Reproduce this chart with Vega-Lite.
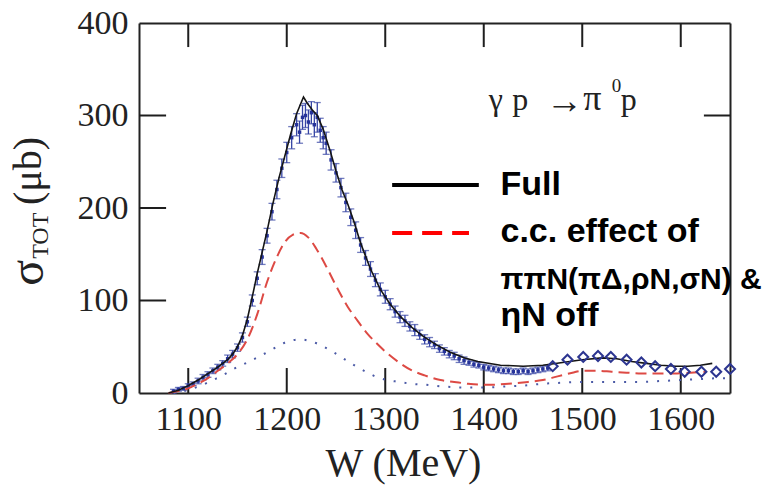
{
  "$schema": "https://vega.github.io/schema/vega-lite/v6.json",
  "width": 591,
  "height": 370,
  "autosize": {"type": "none"},
  "padding": {"left": 139, "top": 23, "right": 39, "bottom": 94},
  "background": "white",
  "config": {"view": {"stroke": null}, "font": "Liberation Serif"},
  "datasets": {
    "pts": [
      {"W":1085,"v":2,"e":2},{"W":1090,"v":4,"e":2},{"W":1095,"v":5,"e":2},{"W":1100,"v":8,"e":2},
      {"W":1105,"v":10,"e":2},{"W":1110,"v":13,"e":3},{"W":1115,"v":17,"e":3},{"W":1120,"v":20,"e":3},
      {"W":1125,"v":24,"e":3},{"W":1130,"v":28,"e":3},{"W":1135,"v":32,"e":3},{"W":1140,"v":37,"e":4},
      {"W":1145,"v":42,"e":4},{"W":1150,"v":49,"e":4},{"W":1155,"v":60,"e":5},{"W":1160,"v":77,"e":5},
      {"W":1165,"v":100,"e":6},{"W":1170,"v":124,"e":7},{"W":1175,"v":147,"e":8},{"W":1180,"v":170,"e":8},
      {"W":1185,"v":196,"e":9},{"W":1190,"v":220,"e":10},{"W":1195,"v":243,"e":10},{"W":1200,"v":260,"e":11},
      {"W":1205,"v":276,"e":12},{"W":1210,"v":290,"e":12},{"W":1213,"v":282,"e":12},{"W":1216,"v":298,"e":13},
      {"W":1219,"v":300,"e":13},{"W":1222,"v":293,"e":13},{"W":1225,"v":303,"e":12},{"W":1228,"v":290,"e":13},
      {"W":1231,"v":298,"e":16},{"W":1234,"v":284,"e":13},{"W":1237,"v":276,"e":12},{"W":1240,"v":270,"e":12},
      {"W":1245,"v":252,"e":11},{"W":1250,"v":238,"e":10},{"W":1255,"v":222,"e":10},{"W":1260,"v":206,"e":10},
      {"W":1265,"v":190,"e":9},{"W":1270,"v":176,"e":9},{"W":1275,"v":160,"e":8},{"W":1280,"v":146,"e":8},
      {"W":1285,"v":134,"e":8},{"W":1290,"v":122,"e":7},{"W":1295,"v":112,"e":7},{"W":1300,"v":104,"e":7},
      {"W":1305,"v":96,"e":6},{"W":1310,"v":88,"e":6},{"W":1315,"v":82,"e":6},{"W":1320,"v":78,"e":6},
      {"W":1325,"v":72,"e":5},{"W":1330,"v":68,"e":6},{"W":1335,"v":63,"e":5},{"W":1340,"v":58,"e":5},
      {"W":1345,"v":55,"e":5},{"W":1350,"v":52,"e":4},{"W":1355,"v":48,"e":4},{"W":1360,"v":45,"e":4},
      {"W":1365,"v":42,"e":4},{"W":1370,"v":40,"e":4},{"W":1375,"v":37,"e":4},{"W":1380,"v":35,"e":4},
      {"W":1385,"v":33,"e":3},{"W":1390,"v":31,"e":3},{"W":1395,"v":30,"e":3},{"W":1400,"v":28,"e":3},
      {"W":1405,"v":27,"e":3},{"W":1410,"v":26,"e":3},{"W":1415,"v":25,"e":3},{"W":1420,"v":24,"e":3},
      {"W":1425,"v":24,"e":3},{"W":1430,"v":23,"e":3},{"W":1435,"v":23,"e":3},{"W":1440,"v":24,"e":3},
      {"W":1445,"v":23,"e":3},{"W":1450,"v":24,"e":3},{"W":1455,"v":25,"e":3},{"W":1460,"v":26,"e":3},
      {"W":1465,"v":27,"e":3}
    ],
    "dia": [
      {"W":1470,"v":29},{"W":1485,"v":36},{"W":1501,"v":39},{"W":1516,"v":40},{"W":1529,"v":39},
      {"W":1545,"v":36},{"W":1560,"v":33},{"W":1574,"v":29},{"W":1590,"v":26},{"W":1604,"v":23},
      {"W":1621,"v":23},{"W":1636,"v":23},{"W":1650,"v":26}
    ],
    "full": [
      {"W":1080,"v":0},{"W":1090,"v":3},{"W":1100,"v":8},{"W":1110,"v":14},{"W":1120,"v":21},
      {"W":1130,"v":28},{"W":1140,"v":36},{"W":1145,"v":42},{"W":1150,"v":50},{"W":1155,"v":62},
      {"W":1160,"v":80},{"W":1165,"v":104},{"W":1170,"v":129},{"W":1175,"v":152},{"W":1180,"v":175},
      {"W":1186,"v":205},{"W":1192,"v":232},{"W":1198,"v":256},{"W":1204,"v":280},{"W":1210,"v":302},
      {"W":1217,"v":320},{"W":1221,"v":313},{"W":1226,"v":306},{"W":1231,"v":300},{"W":1237,"v":285},
      {"W":1244,"v":262},{"W":1250,"v":240},{"W":1256,"v":220},{"W":1262,"v":204},{"W":1268,"v":186},
      {"W":1275,"v":162},{"W":1285,"v":134},{"W":1295,"v":112},{"W":1305,"v":96},{"W":1316,"v":82},
      {"W":1328,"v":70},{"W":1339,"v":61},{"W":1352,"v":52},{"W":1366,"v":44},{"W":1380,"v":38},
      {"W":1394,"v":34},{"W":1417,"v":30},{"W":1440,"v":29},{"W":1460,"v":30},{"W":1480,"v":33},
      {"W":1500,"v":36},{"W":1520,"v":38},{"W":1535,"v":37},{"W":1550,"v":34},{"W":1565,"v":32},
      {"W":1580,"v":30},{"W":1595,"v":29},{"W":1607,"v":29},{"W":1620,"v":30},{"W":1632,"v":32}
    ],
    "cc": [
      {"W":1080,"v":0},{"W":1090,"v":2},{"W":1100,"v":5},{"W":1110,"v":10},{"W":1120,"v":16},
      {"W":1130,"v":24},{"W":1140,"v":32},{"W":1150,"v":42},{"W":1160,"v":58},{"W":1170,"v":85},
      {"W":1180,"v":120},{"W":1190,"v":147},{"W":1198,"v":163},{"W":1206,"v":171},{"W":1214,"v":173},
      {"W":1222,"v":168},{"W":1230,"v":156},{"W":1240,"v":137},{"W":1250,"v":116},{"W":1262,"v":93},
      {"W":1272,"v":78},{"W":1282,"v":64},{"W":1292,"v":53},{"W":1302,"v":43},{"W":1314,"v":33},
      {"W":1326,"v":25},{"W":1340,"v":19},{"W":1356,"v":14},{"W":1370,"v":12},{"W":1384,"v":10},
      {"W":1398,"v":9},{"W":1410,"v":9},{"W":1425,"v":10},{"W":1445,"v":12},{"W":1460,"v":14},
      {"W":1475,"v":18},{"W":1490,"v":22},{"W":1500,"v":24},{"W":1515,"v":24},{"W":1530,"v":23},
      {"W":1545,"v":22},{"W":1560,"v":21},{"W":1575,"v":21},{"W":1593,"v":21},{"W":1610,"v":22},
      {"W":1626,"v":23}
    ],
    "dot": [
      {"W":1085,"v":0},{"W":1095,"v":2},{"W":1105,"v":5},{"W":1115,"v":9},{"W":1125,"v":14},
      {"W":1135,"v":19},{"W":1146,"v":26},{"W":1160,"v":33},{"W":1173,"v":40},{"W":1185,"v":47},
      {"W":1195,"v":53},{"W":1205,"v":57},{"W":1214,"v":58},{"W":1224,"v":56},{"W":1234,"v":52},
      {"W":1246,"v":45},{"W":1258,"v":37},{"W":1270,"v":29},{"W":1282,"v":22},{"W":1292,"v":17},
      {"W":1302,"v":14},{"W":1314,"v":12},{"W":1326,"v":10},{"W":1340,"v":9},{"W":1359,"v":7},
      {"W":1380,"v":6},{"W":1404,"v":6},{"W":1420,"v":7},{"W":1440,"v":8},{"W":1460,"v":10},
      {"W":1478,"v":11},{"W":1500,"v":12},{"W":1520,"v":12},{"W":1540,"v":12},{"W":1560,"v":12},
      {"W":1580,"v":13},{"W":1600,"v":14},{"W":1620,"v":15},{"W":1640,"v":16},{"W":1650,"v":16}
    ],
    "vtk": [
      {"W":1100,"v":13.5,"e":13.5},{"W":1200,"v":13.5,"e":13.5},{"W":1300,"v":13.5,"e":13.5},
      {"W":1400,"v":13.5,"e":13.5},{"W":1500,"v":13.5,"e":13.5},{"W":1600,"v":13.5,"e":13.5},
      {"W":1100,"v":387,"e":13},{"W":1200,"v":387,"e":13},{"W":1300,"v":387,"e":13},
      {"W":1400,"v":387,"e":13},{"W":1500,"v":387,"e":13},{"W":1600,"v":387,"e":13}
    ],
    "htk": [
      {"W":1063.75,"v":100,"e":13.75},{"W":1063.75,"v":200,"e":13.75},{"W":1063.75,"v":300,"e":13.75},
      {"W":1636.75,"v":300,"e":13.25}
    ],
    "leg": [
      {"k":"full","W":1307,"v":225},{"k":"full","W":1395,"v":225},
      {"k":"cc","W":1307,"v":173},{"k":"cc","W":1385,"v":173}
    ],
    "legtext": [
      {"t":"Full","W":1417,"v":225,"s":34},
      {"t":"c.c. effect of","W":1417,"v":174,"s":34},
      {"t":"ππN(πΔ,ρN,σN) &","W":1417,"v":122.5,"s":30},
      {"t":"ηN off","W":1417,"v":83,"s":34}
    ],
    "react": [
      {"t":"γ","W":1405,"v":306,"s":32,"f":"Liberation Serif"},
      {"t":"p","W":1429,"v":306,"s":32,"f":"Liberation Serif"},
      {"t":"→","W":1463,"v":303,"s":37,"f":"DejaVu Sans"},
      {"t":"π","W":1501,"v":306,"s":36,"f":"Liberation Serif"},
      {"t":"0","W":1530,"v":325,"s":19,"f":"Liberation Serif"},
      {"t":"p","W":1539,"v":306,"s":32,"f":"Liberation Serif"}
    ],
    "ytitle": [
      {"t":"σ","W":938,"v":130,"s":48},
      {"t":"TOT","W":950,"v":170,"s":24},
      {"t":"(μb)","W":938,"v":240,"s":40}
    ]
  },
  "encoding": {
    "x": {"field":"W","type":"quantitative","scale":{"domain":[1050,1650],"nice":false,"zero":false},"axis":null},
    "y": {"field":"v","type":"quantitative","scale":{"domain":[0,400],"nice":false,"zero":false},"axis":null}
  },
  "layer": [
    {
      "data": {"name":"vtk"},
      "mark": {"type":"errorbar","ticks":false,"color":"#1e1e1e","thickness":2},
      "encoding": {"yError":{"field":"e"}}
    },
    {
      "data": {"name":"htk"},
      "mark": {"type":"errorbar","ticks":false,"color":"#1e1e1e","thickness":2},
      "encoding": {"xError":{"field":"e"}}
    },
    {
      "data": {"name":"pts"},
      "mark": {"type":"errorbar","ticks":{"size":7},"color":"#3645a4","thickness":1.3},
      "encoding": {"yError":{"field":"e"}}
    },
    {
      "data": {"name":"pts"},
      "mark": {"type":"square","size":12,"color":"#26339a","opacity":1}
    },
    {
      "data": {"name":"dot"},
      "mark": {"type":"line","color":"#4b5aa6","strokeWidth":2,"strokeDash":[2,9],"interpolate":"monotone"}
    },
    {
      "data": {"name":"cc"},
      "mark": {"type":"line","color":"#dd4a44","strokeWidth":2,"strokeDash":[11,6],"interpolate":"monotone"}
    },
    {
      "data": {"name":"full"},
      "mark": {"type":"line","color":"#151515","strokeWidth":1.6},
      "encoding": {
        "x": {"field":"W","type":"quantitative","scale":{"domain":[1050,1650],"nice":false,"zero":false},
          "axis":{"orient":"top","values":[1100],"labels":false,"title":null,"grid":false,"ticks":false,
            "domainColor":"#222","domainWidth":2}},
        "y": {"field":"v","type":"quantitative","scale":{"domain":[0,400],"nice":false,"zero":false},
          "axis":{"orient":"right","values":[300],"labels":false,"title":null,"grid":false,"ticks":false,
            "domainColor":"#222","domainWidth":2}}
      }
    },
    {
      "data": {"name":"dia"},
      "mark": {"type":"point","shape":"diamond","filled":false,"size":100,"strokeWidth":2,"color":"#2c3590","opacity":1},
      "encoding": {
        "x": {"field":"W","type":"quantitative","scale":{"domain":[1050,1650],"nice":false,"zero":false},
          "axis":{"orient":"bottom","values":[1100,1200,1300,1400,1500,1600],"grid":false,"ticks":false,
            "domainColor":"#222","domainWidth":2,
            "labelFont":"Liberation Serif","labelFontSize":34,"labelColor":"#222","labelPadding":9,
            "labelFlush":false,"labelOverlap":false,"format":"d",
            "title":"W (MeV)","titleFont":"Liberation Serif","titleFontSize":40,"titleFontWeight":"normal",
            "titleColor":"#222","titleX":264,"titleY":82,"titleBaseline":"alphabetic","titleAlign":"center","titleAnchor":null}},
        "y": {"field":"v","type":"quantitative","scale":{"domain":[0,400],"nice":false,"zero":false},
          "axis":{"orient":"left","values":[0,100,200,300,400],"grid":false,"ticks":false,
            "domainColor":"#222","domainWidth":2,
            "labelFont":"Liberation Serif","labelFontSize":34,"labelColor":"#222","labelPadding":11,
            "labelFlush":false,"labelOverlap":false,"format":"d","title":null}}
      }
    },
    {
      "data": {"name":"leg"},
      "transform": [{"filter":"datum.k === 'full'"}],
      "mark": {"type":"line","color":"#000000","strokeWidth":4}
    },
    {
      "data": {"name":"leg"},
      "transform": [{"filter":"datum.k === 'cc'"}],
      "mark": {"type":"line","color":"#ff0000","strokeWidth":4,"strokeDash":[20,10]}
    },
    {
      "data": {"name":"legtext"},
      "mark": {"type":"text","font":"Liberation Sans","fontWeight":"bold","align":"left","baseline":"middle","color":"#000000"},
      "encoding": {"text":{"field":"t"},"size":{"field":"s","type":"quantitative","scale":null}}
    },
    {
      "data": {"name":"react"},
      "mark": {"type":"text","align":"left","baseline":"alphabetic","color":"#222"},
      "encoding": {"text":{"field":"t"},"size":{"field":"s","type":"quantitative","scale":null},"font":{"field":"f"}}
    },
    {
      "data": {"name":"ytitle"},
      "mark": {"type":"text","font":"Liberation Serif","align":"center","baseline":"middle","angle":270,"color":"#222"},
      "encoding": {"text":{"field":"t"},"size":{"field":"s","type":"quantitative","scale":null}}
    }
  ],
  "resolve": {"axis": {"x":"independent","y":"independent"}}
}
